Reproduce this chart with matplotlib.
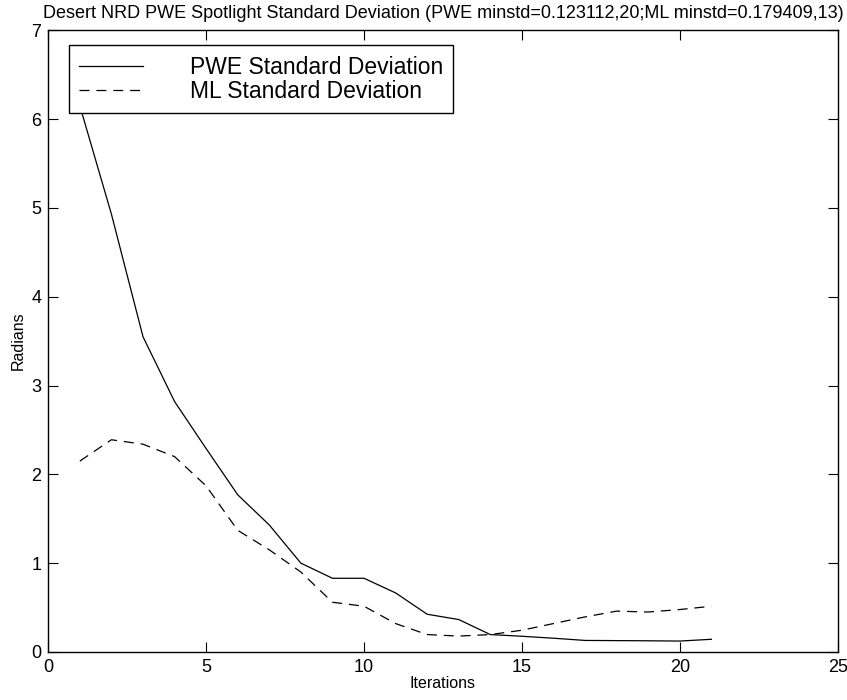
import numpy as np
import matplotlib.pyplot as plt

plt.rcParams['font.family'] = ['Liberation Sans', 'DejaVu Sans']

# --- data ---
iterations = [1, 2, 3, 4, 5, 6, 7, 8, 9, 10, 11, 12, 13, 14, 15, 16, 17, 18, 19, 20, 21]
pwe_std = [6.15, 4.93, 3.55, 2.82, 2.29, 1.77, 1.43, 1.00, 0.83, 0.83, 0.665, 0.425,
           0.365, 0.196, 0.177, 0.155, 0.130, 0.128, 0.126, 0.123, 0.143]
ml_std = [2.15, 2.39, 2.34, 2.20, 1.87, 1.37, 1.15, 0.90, 0.56, 0.515, 0.32, 0.196,
          0.179, 0.196, 0.245, 0.32, 0.395, 0.46, 0.45, 0.478, 0.515]

title = "Desert NRD PWE Spotlight Standard Deviation (PWE minstd=0.123112,20;ML minstd=0.179409,13)"

fig = plt.figure(figsize=(8.47, 7.0), dpi=100)
ax = fig.add_axes([0.057, 0.0686, 0.932, 0.888])

ax.plot(iterations, pwe_std, color="black", linewidth=0.9, label="PWE Standard Deviation")
ax.plot(iterations, ml_std, color="black", linewidth=0.9, linestyle=(0, (8, 5.5)),
        label="ML Standard Deviation")

ax.set_xlim(0, 25)
ax.set_ylim(0, 7)
ax.set_xticks(range(0, 26, 5))
ax.set_yticks(range(0, 8))
ax.tick_params(direction="in", length=7, width=0.8, top=True, right=True,
               labelsize=13, pad=5)
for s in ax.spines.values():
    s.set_linewidth(1.0)

ax.set_xlabel("Iterations", fontsize=11.5, labelpad=0)
ax.set_ylabel("Radians", fontsize=11.5, labelpad=4)
ax.set_title(title, fontsize=13, pad=9)

leg = ax.legend(loc="upper left", bbox_to_anchor=(0.026, 0.976), fontsize=16.5,
                frameon=True, fancybox=False, framealpha=1, edgecolor="black",
                handlelength=2.8, handletextpad=2.02, borderpad=0.45,
                labelspacing=0.05, borderaxespad=0)
leg.get_frame().set_linewidth(1.0)

fig.savefig("out.png", dpi=100)
